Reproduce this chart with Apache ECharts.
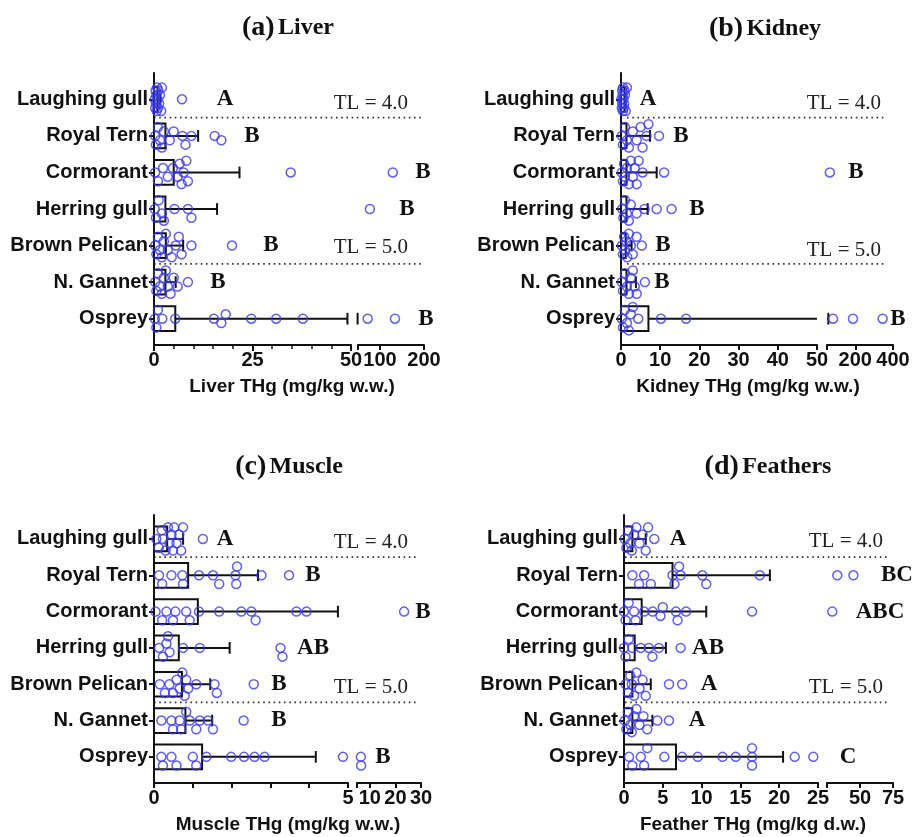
<!DOCTYPE html>
<html><head><meta charset="utf-8">
<script src="https://cdn.jsdelivr.net/npm/echarts@6/dist/echarts.min.js"></script>
<style>html,body{margin:0;padding:0;background:#fff}#c{width:915px;height:837px}</style>
</head><body><div id="c"></div>
<script>
// ---------------- DATA ----------------
const species = ['Laughing gull','Royal Tern','Cormorant','Herring gull','Brown Pelican','N. Gannet','Osprey'];

// (a) Liver THg (mg/kg w.w.)
const liverBar   = [0.9, 2.9, 5.0, 2.9, 3.0, 2.9, 5.4];
const liverUpper = [1.6, 11.2, 21.7, 16.0, 7.4, 5.5, 49.1];
const liverPoints = [
  [0.2,0.3,0.4,0.5,0.6,0.7,0.8,0.9,1.0,1.1,1.3,1.5,1.8,2.0,7.1],
  [0.3,0.5,1.0,1.5,2.0,2.5,4.0,5.0,7.2,8.0,9.5,15.4,17.1],
  [0.3,1.0,2.3,3.5,4.8,6.0,6.5,7.0,7.5,8.2,8.6,34.7,129],
  [0.2,0.5,1.2,2.0,2.5,5.2,8.6,9.5,77],
  [0.3,0.6,1.0,1.5,2.0,2.5,3.0,3.5,4.5,5.5,6.3,7.0,9.5,19.8],
  [0.3,0.6,1.0,1.5,2.0,2.5,3.0,3.5,4.2,5.0,6.0,8.6],
  [0.2,0.6,1.0,2.1,5.4,15.2,17.1,18.2,24.7,31.0,37.8,72,134]
];
const liverLetters = ['A','B','B','B','B','B','B'];
const liverMainLabels = [0,25,50];
const liverBreakLabels = [100,200];

// (b) Kidney THg (mg/kg w.w.)
const kidneyBar   = [0.9, 1.4, 1.4, 1.4, 1.2, 1.4, 7.0];
const kidneyUpper = [1.1, 7.4, 9.1, 6.8, 2.7, 3.8, 57];
const kidneyPoints = [
  [0.1,0.2,0.3,0.3,0.4,0.5,0.5,0.6,0.7,0.8,0.9,1.0,1.2,1.5],
  [0.2,0.5,1.0,1.5,2.0,3.0,4.0,5.0,5.5,6.5,7.0,9.7],
  [0.2,0.5,0.8,1.0,1.5,2.0,2.5,3.0,3.5,4.0,4.5,5.5,11.0,65],
  [0.3,0.6,1.0,1.5,2.0,2.5,4.0,6.0,9.1,12.9],
  [0.2,0.5,0.8,1.0,1.3,1.6,2.0,2.5,3.0,4.0,5.3],
  [0.2,0.5,1.0,1.5,2.0,2.5,3.0,3.5,4.0,6.1],
  [0.2,0.5,1.0,1.5,2.0,2.5,3.0,4.4,10.2,16.6,82,188,345]
];
const kidneyLetters = ['A','B','B','B','B','B','B'];
const kidneyMainLabels = [0,10,20,30,40,50];
const kidneyBreakLabels = [200,400];

// (c) Muscle THg (mg/kg w.w.)
const muscleBar   = [0.34, 0.88, 1.13, 0.64, 0.72, 0.81, 1.24];
const muscleUpper = [0.75, 2.68, 4.74, 1.95, 1.45, 1.50, 4.17];
const musclePoints = [
  [0.06,0.12,0.2,0.23,0.3,0.36,0.4,0.45,0.49,0.52,0.58,0.65,0.7,0.75,1.26],
  [0.13,0.21,0.45,0.73,0.75,1.16,1.52,1.68,2.10,2.12,2.14,2.77,3.48],
  [0.04,0.21,0.32,0.49,0.55,0.83,0.92,1.16,1.68,2.25,2.51,2.62,3.67,3.93,23.4],
  [0.13,0.23,0.32,0.36,0.40,0.75,1.18,3.26,3.31],
  [0.15,0.28,0.40,0.49,0.58,0.66,0.73,0.79,0.83,0.88,1.09,1.56,1.62,2.57],
  [0.19,0.45,0.49,0.66,0.70,0.83,0.92,1.09,1.18,1.39,1.52,2.31],
  [0.19,0.23,0.45,0.58,1.0,1.09,1.35,1.99,2.32,2.59,2.85,4.87,6.5,6.6]
];
const muscleLetters = ['A','B','B','AB','B','B','B'];
const muscleMainLabels = [0,5];
const muscleBreakLabels = [10,20,30];

// (d) Feather THg (mg/kg d.w.)
const featherBar   = [1.08, 6.25, 2.28, 1.38, 1.08, 1.08, 6.7];
const featherUpper = [2.8, 18.8, 10.6, 5.4, 3.45, 3.66, 20.5];
const featherPoints = [
  [0.1,0.3,0.5,0.8,1.0,1.3,1.6,2.0,2.4,2.8,3.1,3.9],
  [1.08,1.94,2.6,3.45,6.25,6.5,7.1,7.3,10.1,10.6,17.5,32.8,45],
  [0.0,0.2,0.6,1.3,1.5,2.6,3.7,4.7,5.0,6.7,6.9,8.0,16.5,29],
  [0.0,0.2,0.6,1.08,2.16,3.2,3.66,4.5,7.3],
  [0.2,0.5,0.8,1.0,1.3,1.6,2.0,2.4,2.8,5.8,7.5],
  [0.1,0.3,0.5,0.8,1.0,1.3,1.6,2.0,2.5,3.0,4.3,5.8],
  [0.65,1.08,2.16,2.6,3.0,5.2,7.5,9.5,12.7,14.4,16.5,16.5,16.5,22.0,24.4]
];
const featherLetters = ['A','BC','ABC','AB','A','A','C'];
const featherMainLabels = [0,5,10,15,20,25];
const featherBreakLabels = [50,75];

// ---------------- LAYOUT / STYLE ----------------
const SANS = 'Liberation Sans, Arial, sans-serif';
const SERIF = 'Liberation Serif, Times New Roman, serif';
const BLUE = '#3838f0';
const INK = '#111';

const panels = [
  {tag:'(a)', name:'Liver', axisName:'Liver THg (mg/kg w.w.)', bar:liverBar, upper:liverUpper, pts:liverPoints, letters:liverLetters,
   mainMax:50, mainInterval:25, minorSplit:5, mainLabels:liverMainLabels, breakMin:50, breakMax:200, breakLabels:liverBreakLabels,
   left:154, mainW:197, breakLeft:358, breakW:66, top:73, height:272, yMin:-0.72, yMax:6.72,
   titleX:288, titleY:28, nameX:292, nameY:387, letterX:[225,252,423,407,271,218,426], tlX:408, tl4:103, tl5:247, dot1:154, dot2:423},
  {tag:'(b)', name:'Kidney', axisName:'Kidney THg (mg/kg w.w.)', bar:kidneyBar, upper:kidneyUpper, pts:kidneyPoints, letters:kidneyLetters,
   mainMax:50, mainInterval:10, minorSplit:0, mainLabels:kidneyMainLabels, breakMin:50, breakMax:400, breakLabels:kidneyBreakLabels,
   left:621, mainW:196, breakLeft:827, breakW:66, top:73, height:272, yMin:-0.72, yMax:6.72,
   titleX:765, titleY:29, nameX:748, nameY:387, letterX:[648,681,856,697,663,662,898], tlX:881, tl4:103, tl5:250, dot1:627, dot2:887},
  {tag:'(c)', name:'Muscle', axisName:'Muscle THg (mg/kg w.w.)', bar:muscleBar, upper:muscleUpper, pts:musclePoints, letters:muscleLetters,
   mainMax:5, mainInterval:1, minorSplit:0, mainLabels:muscleMainLabels, breakMin:5, breakMax:30, breakLabels:muscleBreakLabels,
   left:154, mainW:194, breakLeft:357, breakW:64, top:515, height:268, yMin:-0.66, yMax:6.72,
   titleX:289, titleY:467, nameX:288, nameY:825, letterX:[225,313,423,313,279,279,383], tlX:408, tl4:542, tl5:687, dot1:154, dot2:418},
  {tag:'(d)', name:'Feathers', axisName:'Feather THg (mg/kg d.w.)', bar:featherBar, upper:featherUpper, pts:featherPoints, letters:featherLetters,
   mainMax:25, mainInterval:5, minorSplit:0, mainLabels:featherMainLabels, breakMin:25, breakMax:75, breakLabels:featherBreakLabels,
   left:624, mainW:194, breakLeft:827, breakW:66, top:515, height:268, yMin:-0.66, yMax:6.72,
   titleX:768, titleY:467, nameX:753, nameY:825, letterX:[678,897,880,708,709,697,848], tlX:883, tl4:541, tl5:687, dot1:625, dot2:888}
];

// beeswarm-style vertical spread (visual only, values untouched)
function swarm(values, pxOf, ppu){
  const order = values.map((v,k)=>k).sort((a,b)=>values[a]-values[b]);
  const placed = [], off = new Array(values.length).fill(0);
  const cands = [0,0.12,-0.12,0.24,-0.24,0.32,-0.32];
  const d = 8;
  for (const k of order){
    const x = pxOf(values[k]);
    let best = 0, bestScore = -1;
    for (const c of cands){
      const y = c*ppu;
      let m = Infinity;
      for (const p of placed) m = Math.min(m, Math.hypot(p.x-x, p.y-y));
      if (m >= d){ best = c; bestScore = Infinity; break; }
      if (m > bestScore){ bestScore = m; best = c; }
    }
    off[k] = best; placed.push({x, y: best*ppu});
  }
  return off;
}

const grid = [], xAxis = [], yAxis = [], series = [], graphic = [];
const lineStyle = {color: INK, width: 2};

panels.forEach((P, p) => {
  const gi = 2*p, bi = 2*p+1;
  grid.push({left:P.left, top:P.top, width:P.mainW, height:P.height});
  grid.push({left:P.breakLeft, top:P.top, width:P.breakW, height:P.height});
  const mainX = {type:'value', gridIndex:gi, position:'bottom', min:0, max:P.mainMax, interval:P.mainInterval,
    axisLine:{show:true, onZero:false, lineStyle}, splitLine:{show:false},
    axisTick:{show:true, length:P.minorSplit ? 6 : 5, lineStyle},
    axisLabel:{customValues:P.mainLabels, color:INK, fontFamily:SANS, fontWeight:'bold', fontSize:20, margin:5}};
  if (P.minorSplit) mainX.minorTick = {show:true, splitNumber:P.minorSplit, length:4, lineStyle:{color:INK, width:1.5}};
  xAxis.push(mainX);
  xAxis.push({type:'value', gridIndex:bi, position:'bottom', min:P.breakMin, max:P.breakMax,
    axisLine:{show:true, onZero:false, lineStyle}, splitLine:{show:false},
    axisTick:{show:true, length:5, lineStyle, customValues:[P.breakMin].concat(P.breakLabels)},
    axisLabel:{customValues:P.breakLabels, color:INK, fontFamily:SANS, fontWeight:'bold', fontSize:20, margin:5}});
  yAxis.push({type:'value', gridIndex:gi, position:'left', inverse:true, min:P.yMin, max:P.yMax,
    axisLine:{show:true, onZero:false, lineStyle}, splitLine:{show:false},
    axisTick:{show:true, length:5, customValues:[0,1,2,3,4,5,6], lineStyle},
    axisLabel:{customValues:[0,1,2,3,4,5,6], formatter:v=>species[Math.round(v)]||'',
      color:INK, fontFamily:SANS, fontWeight:'bold', fontSize:20, margin:6}});
  yAxis.push({type:'value', gridIndex:bi, inverse:true, min:P.yMin, max:P.yMax, show:false});

  series.push({type:'custom', xAxisIndex:gi, yAxisIndex:gi, z:2,
    data:P.bar.map((v,i)=>[v,i]),
    renderItem:(params, api)=>{
      const v = api.value(0), i = api.value(1);
      const a = api.coord([0,i]), b = api.coord([v,i]);
      const h = api.size([0,0.68])[1];
      return {type:'rect', shape:{x:a[0], y:a[1]-h/2, width:b[0]-a[0], height:h},
        style:{fill:'rgba(255,255,255,0)', stroke:INK, lineWidth:2}};
    }});

  const errRender = (params, api)=>{
    const lo = api.value(0), hi = api.value(1), i = api.value(2);
    const cs = params.coordSys, xMin = cs.x, xMax = cs.x + cs.width;
    const a = api.coord([lo,i]), b = api.coord([hi,i]);
    const x1 = Math.max(a[0], xMin), x2 = Math.min(b[0], xMax);
    const capIn = b[0] >= xMin - 0.5 && b[0] <= xMax + 0.5;
    const ch = api.size([0,0.32])[1];
    const children = [];
    if (x2 > x1) children.push({type:'line', shape:{x1, y1:a[1], x2, y2:a[1]}, style:{stroke:INK, lineWidth:2}});
    if (capIn) children.push({type:'line', shape:{x1:b[0], y1:a[1]-ch/2, x2:b[0], y2:a[1]+ch/2}, style:{stroke:INK, lineWidth:2}});
    if (!children.length) return null;
    return {type:'group', children};
  };
  const errData = P.bar.map((v,i)=>[v, P.upper[i], i]);
  series.push({type:'custom', xAxisIndex:gi, yAxisIndex:gi, z:3, data:errData, renderItem:errRender});
  series.push({type:'custom', xAxisIndex:bi, yAxisIndex:bi, z:3, data:errData, renderItem:errRender});

  const ppu = P.height/(P.yMax - P.yMin);
  const pxOf = v => v <= P.mainMax ? P.left + v/P.mainMax*P.mainW
                                   : P.breakLeft + (v-P.breakMin)/(P.breakMax-P.breakMin)*P.breakW;
  const mainPts = [], brkPts = [];
  P.pts.forEach((row, i) => {
    const off = swarm(row, pxOf, ppu);
    row.forEach((v, k) => {
      (v <= P.mainMax ? mainPts : brkPts).push([v, i + off[k]]);
    });
  });
  const sc = {type:'scatter', symbol:'circle', symbolSize:9, clip:false, z:4,
    itemStyle:{color:'rgba(0,0,0,0)', borderColor:BLUE, borderWidth:1.5}};
  series.push(Object.assign({}, sc, {xAxisIndex:gi, yAxisIndex:gi, data:mainPts}));
  series.push(Object.assign({}, sc, {xAxisIndex:bi, yAxisIndex:bi, data:brkPts}));

  const rowY = i => P.top + (i - P.yMin)/(P.yMax - P.yMin)*P.height;
  graphic.push({type:'text', x:P.titleX, y:P.titleY, style:{
    text:'{t|' + P.tag + '} {n|' + P.name + '}', align:'center', verticalAlign:'middle',
    textAlign:'center', textVerticalAlign:'middle',
    rich:{t:{font:'bold 28px ' + SERIF, fill:INK}, n:{font:'bold 24px ' + SERIF, fill:INK}}}});
  graphic.push({type:'text', x:P.nameX, y:P.nameY, style:{text:P.axisName, font:'bold 19px ' + SANS, fill:INK,
    align:'center', verticalAlign:'middle', textAlign:'center', textVerticalAlign:'middle'}});
  P.letters.forEach((L, i) => {
    graphic.push({type:'text', x:P.letterX[i], y:rowY(i), style:{text:L, font:'bold 23px ' + SERIF, fill:INK,
      align:'center', verticalAlign:'middle', textAlign:'center', textVerticalAlign:'middle'}});
  });
  [['TL = 4.0', P.tl4], ['TL = 5.0', P.tl5]].forEach(([t, y]) => {
    graphic.push({type:'text', x:P.tlX, y:y, style:{text:t, font:'21px ' + SERIF, fill:'#222',
      align:'right', verticalAlign:'middle', textAlign:'right', textVerticalAlign:'middle'}});
  });
  [0.5, 4.5].forEach(r => {
    const y = rowY(r);
    graphic.push({type:'line', shape:{x1:P.dot1, y1:y, x2:P.dot2, y2:y},
      style:{stroke:'#333', lineWidth:1.6, lineDash:[1.6,3.6]}});
  });
});

const chart = echarts.init(document.getElementById('c'), null, {renderer:'canvas'});
chart.setOption({backgroundColor:'#fff', animation:false, grid, xAxis, yAxis, series, graphic});
</script></body></html>
